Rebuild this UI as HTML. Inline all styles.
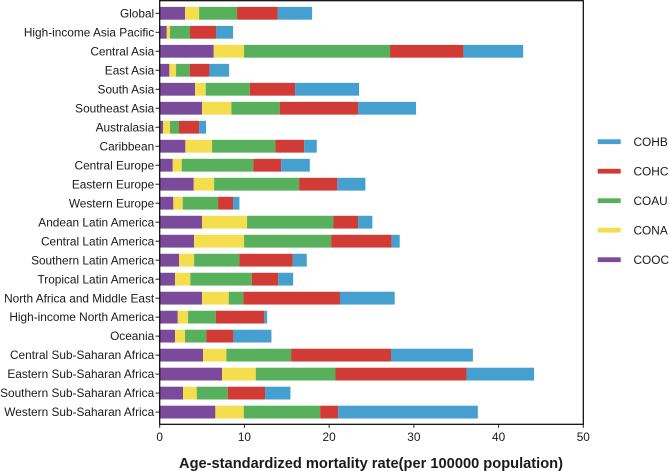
<!DOCTYPE html>
<html><head><meta charset="utf-8">
<style>
html,body{margin:0;padding:0;background:#fff;width:669px;height:471px;overflow:hidden}
svg{display:block}
text{font-family:"Liberation Sans",Arial,sans-serif;fill:#1a1a1a}
</style></head>
<body>
<svg id="chart" width="669" height="471" viewBox="0 0 669 471" xmlns="http://www.w3.org/2000/svg"></svg>
<script>
const categories = ["Global","High-income Asia Pacific","Central Asia","East Asia","South Asia","Southeast Asia","Australasia","Caribbean","Central Europe","Eastern Europe","Western Europe","Andean Latin America","Central Latin America","Southern Latin America","Tropical Latin America","North Africa and Middle East","High-income North America","Oceania","Central Sub-Saharan Africa","Eastern Sub-Saharan Africa","Southern Sub-Saharan Africa","Western Sub-Saharan Africa"];
const COOC = [2.99,0.83,6.38,1.14,4.17,5.0,0.39,3.03,1.54,4.02,1.61,5.0,4.06,2.28,1.81,5.0,2.13,1.81,5.12,7.36,2.76,6.57];
const CONA = [1.66,0.39,3.58,0.79,1.26,3.46,0.83,3.15,1.06,2.40,1.11,5.31,5.9,1.78,1.81,3.15,1.22,1.18,2.75,3.98,1.61,3.35];
const COAU = [4.48,2.36,17.23,1.61,5.2,5.71,1.06,7.48,8.46,10.04,4.17,10.2,10.28,5.35,7.25,1.73,3.26,2.52,7.64,9.41,3.66,9.02];
const COHC = [4.81,3.07,8.66,2.33,5.35,9.24,2.37,3.39,3.27,4.51,1.77,2.9,7.15,6.3,3.11,11.4,5.71,3.19,11.79,15.47,4.41,2.12];
const COHB = [4.05,2.01,7.05,2.32,7.55,6.85,0.82,1.49,3.39,3.31,0.75,1.69,0.94,1.65,1.77,6.46,0.36,4.49,9.67,7.97,2.99,16.49];
const xTicks = [0,10,20,30,40,50];
const stackOrder = ["COOC","CONA","COAU","COHC","COHB"];
const legendOrder = ["COHB","COHC","COAU","CONA","COOC"];
const seriesValues = {COOC:COOC,CONA:CONA,COAU:COAU,COHC:COHC,COHB:COHB};
const seriesColors = {COOC:"#7b4a9a",CONA:"#f4de4e",COAU:"#58b05c",COHC:"#d03c35",COHB:"#459fcf"};

const svg = document.getElementById('chart');
const NS = 'http://www.w3.org/2000/svg';
const plotL = 159.7, plotR = 583.3, plotT = 0.7, plotB = 424.3;
const firstY = 13.3, stepY = 18.99, barH = 12.8;
const xScale = v => plotL + (v / 50) * (plotR - plotL);
const yScale = i => firstY + i * stepY;
function make(tag, attrs, text){
  const el = document.createElementNS(NS, tag);
  for (const k in attrs) el.setAttribute(k, attrs[k]);
  if (text !== undefined) el.textContent = text;
  svg.appendChild(el);
  return el;
}
categories.forEach((cat, i) => {
  let acc = 0;
  stackOrder.forEach(s => {
    const v = seriesValues[s][i];
    const r = make('rect', {x: xScale(acc), y: yScale(i) - barH / 2, width: xScale(acc + v) - xScale(acc), height: barH, fill: seriesColors[s]});
    
    
    acc += v;
  });
  const t = make('line', {x1: 155.5, x2: plotL, y1: yScale(i), y2: yScale(i), stroke: '#222', 'stroke-width': 1});
  
  
  const l = make('text', {x: 154.2, y: yScale(i) + 4.1, 'text-anchor': 'end', 'font-size': 11.85}, cat);
  
  
});
const frame = make('rect', {x: plotL, y: plotT, width: plotR - plotL, height: plotB - plotT, fill: 'none', stroke: '#000', 'stroke-width': 1.2});


xTicks.forEach(v => {
  const t = make('line', {x1: xScale(v), x2: xScale(v), y1: plotB, y2: plotB + 3.5, stroke: '#222', 'stroke-width': 1});
  
  
  const l = make('text', {x: xScale(v), y: 441, 'text-anchor': 'middle', 'font-size': 11.85}, String(v));
  
  
});
const title = make('text', {x: 371, y: 468, 'text-anchor': 'middle', 'font-size': 14.65, 'font-weight': 'bold'}, 'Age-standardized mortality rate(per 100000 population)');


legendOrder.forEach((s, i) => {
  const y = 141.7 + i * 29.5;
  const r = make('rect', {x: 597.7, y: y - 2.4, width: 23, height: 4.8, fill: seriesColors[s]});
  
  
  const l = make('text', {x: 633.5, y: y + 4.1, 'font-size': 11.85}, s);
  
  
});
</script>
</body></html>
